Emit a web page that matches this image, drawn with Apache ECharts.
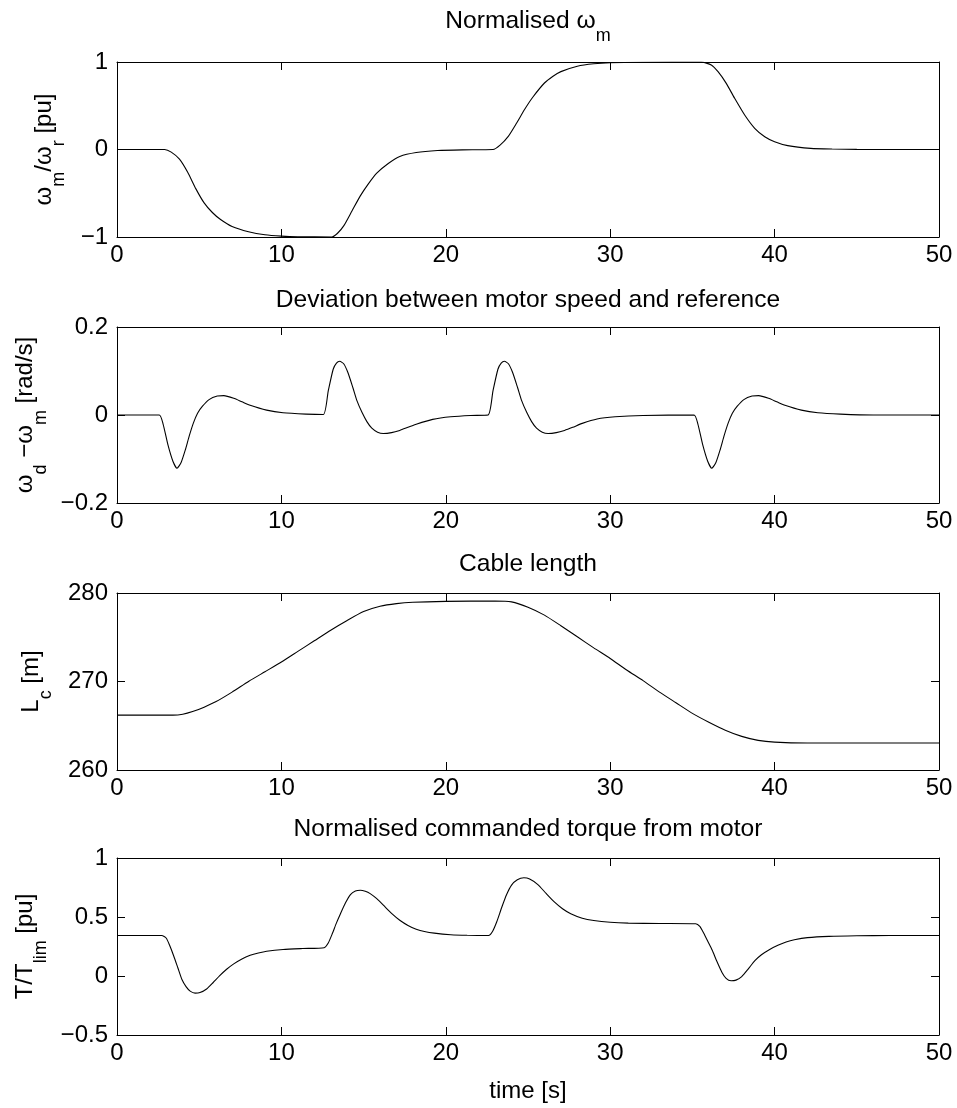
<!DOCTYPE html>
<html><head><meta charset="utf-8">
<script src="https://cdn.jsdelivr.net/npm/echarts@6/dist/echarts.min.js"></script>
<style>html,body{margin:0;padding:0;background:#fff}#c{width:957px;height:1108px}</style>
</head><body><div id="c"></div>
<script>
// ---- data ----
const xTicks = [0, 10, 20, 30, 40, 50];

const speedT = [0, 2.9, 3.3, 3.8, 4.3, 4.8, 5.3, 5.8, 6.3, 7.0, 8.0, 9.0, 10.0, 11.0, 13.05, 13.4, 13.8, 14.3, 14.8, 15.3, 15.8, 16.5, 17.2, 18.2, 19.5, 21.0, 22.87, 23.3, 23.8, 24.3, 24.8, 25.3, 26.0, 26.5, 27.0, 28.0, 29.0, 30.0, 32.0, 35.54, 36.15, 36.56, 37.06, 37.57, 38.18, 38.79, 39.4, 40.0, 40.8, 42.2, 43.5, 45.0, 50];
const speedV = [0, 0, -0.03, -0.11, -0.26, -0.45, -0.61, -0.72, -0.80, -0.88, -0.94, -0.975, -0.99, -0.997, -1.0, -0.96, -0.87, -0.70, -0.53, -0.39, -0.27, -0.16, -0.08, -0.035, -0.012, -0.004, 0, 0.05, 0.15, 0.30, 0.46, 0.60, 0.76, 0.835, 0.89, 0.952, 0.98, 0.992, 0.998, 1.0, 0.966, 0.889, 0.756, 0.585, 0.394, 0.242, 0.146, 0.089, 0.044, 0.013, 0.005, 0.001, 0];

const devT = [0, 2.57, 2.8, 3.1, 3.4, 3.65, 3.9, 4.15, 4.4, 4.65, 4.9, 5.2, 5.6, 6.1, 6.5, 7.1, 7.6, 8.1, 9.1, 10.1, 11.5, 12.55, 12.85, 13.15, 13.35, 13.55, 13.8, 14.05, 14.35, 14.6, 14.9, 15.2, 15.5, 15.85, 16.2, 16.7, 17.2, 17.7, 18.2, 19.2, 20.3, 21.5, 22.57, 22.87, 23.17, 23.37, 23.57, 23.82, 24.07, 24.37, 24.62, 24.92, 25.22, 25.52, 25.87, 26.22, 26.72, 27.22, 27.72, 28.3, 29.2, 30.3, 32.0, 35.1, 35.33, 35.63, 35.93, 36.18, 36.43, 36.68, 36.93, 37.18, 37.43, 37.73, 38.13, 38.63, 39.03, 39.63, 40.13, 40.63, 41.63, 42.63, 44.0, 46.0, 50];
const devV = [0, 0, -0.02, -0.068, -0.105, -0.121, -0.108, -0.08, -0.047, -0.018, 0.004, 0.02, 0.035, 0.043, 0.044, 0.038, 0.03, 0.022, 0.011, 0.005, 0.002, 0.001, 0.055, 0.104, 0.118, 0.122, 0.116, 0.096, 0.062, 0.032, 0.006, -0.015, -0.03, -0.039, -0.042, -0.04, -0.035, -0.028, -0.021, -0.01, -0.004, -0.001, 0, 0.055, 0.104, 0.118, 0.122, 0.116, 0.096, 0.062, 0.032, 0.006, -0.015, -0.03, -0.039, -0.042, -0.04, -0.035, -0.028, -0.019, -0.009, -0.004, -0.001, 0, -0.02, -0.068, -0.105, -0.121, -0.108, -0.08, -0.047, -0.018, 0.004, 0.02, 0.035, 0.043, 0.044, 0.038, 0.03, 0.022, 0.011, 0.005, 0.002, 0, 0];

const cableT = [0, 3.4, 4.0, 4.6, 5.3, 6.0, 7.0, 8.0, 9.0, 10.0, 11.0, 12.0, 13.0, 14.0, 15.0, 16.0, 17.0, 18.0, 20.0, 23.0, 24.0, 25.0, 26.0, 27.0, 28.0, 29.0, 30.0, 31.0, 32.0, 33.0, 34.0, 35.0, 36.0, 37.0, 38.0, 39.0, 40.0, 42.0, 50];
const cableV = [266.2, 266.2, 266.3, 266.6, 267.1, 267.7, 268.8, 270.0, 271.1, 272.2, 273.4, 274.6, 275.8, 276.9, 277.9, 278.5, 278.8, 278.95, 279.05, 279.1, 279.0, 278.4, 277.5, 276.3, 275.05, 273.8, 272.6, 271.3, 270.1, 268.8, 267.6, 266.4, 265.4, 264.5, 263.8, 263.35, 263.15, 263.05, 263.05];

const torqueT = [0, 2.72, 3.0, 3.2, 3.45, 3.7, 3.95, 4.2, 4.45, 4.75, 5.05, 5.45, 5.85, 6.25, 6.65, 7.1, 7.6, 8.1, 8.6, 9.1, 10.1, 11.3, 12.6, 12.85, 13.1, 13.35, 13.6, 13.9, 14.2, 14.5, 14.8, 15.1, 15.4, 15.8, 16.2, 16.7, 17.2, 17.7, 18.2, 18.7, 19.3, 20.3, 21.3, 22.6, 22.85, 23.1, 23.4, 23.7, 24.0, 24.35, 24.75, 25.1, 25.6, 26.1, 26.6, 27.1, 27.6, 28.3, 29.0, 30.0, 31.1, 33.0, 35.2, 35.45, 35.7, 35.95, 36.2, 36.5, 36.8, 37.05, 37.35, 37.65, 38.0, 38.4, 38.8, 39.2, 39.7, 40.2, 40.7, 41.2, 42.0, 43.3, 45.0, 47.0, 50];
const torqueV = [0.343, 0.343, 0.32, 0.26, 0.17, 0.07, -0.03, -0.09, -0.128, -0.145, -0.14, -0.11, -0.055, 0.003, 0.055, 0.103, 0.145, 0.175, 0.195, 0.21, 0.225, 0.233, 0.24, 0.28, 0.36, 0.45, 0.53, 0.62, 0.69, 0.72, 0.727, 0.718, 0.698, 0.655, 0.6, 0.53, 0.472, 0.428, 0.397, 0.377, 0.363, 0.35, 0.345, 0.343, 0.38, 0.46, 0.58, 0.69, 0.77, 0.815, 0.832, 0.822, 0.775, 0.7, 0.628, 0.57, 0.528, 0.49, 0.47, 0.455, 0.448, 0.445, 0.443, 0.42, 0.36, 0.29, 0.22, 0.12, 0.03, -0.02, -0.04, -0.035, -0.005, 0.06, 0.13, 0.18, 0.225, 0.26, 0.288, 0.307, 0.325, 0.336, 0.341, 0.343, 0.343];

const yTicks1 = [-1, 0, 1];
const yTicks2 = [-0.2, 0, 0.2];
const yTicks3 = [260, 270, 280];
const yTicks4 = [-0.5, 0, 0.5, 1];

const titles = ['{t|Normalised ω}{s|m}', '{t|Deviation between motor speed and reference}', '{t|Cable length}', '{t|Normalised commanded torque from motor}'];
const yNames = ['{a|ω}{s|m}{a|/ω}{s|r}{a| [pu]}', '{a|ω}{s|d}{a| −ω}{s|m}{a| [rad/s]}', '{a|L}{s|c}{a| [m]}', '{a|T/T}{s|lim}{a| [pu]}'];
const xName = 'time [s]';

// ---- layout ----
const FONT = '"Liberation Sans", Arial, Helvetica, sans-serif';
const PLOT_LEFT = 117, PLOT_RIGHT = 18;
const gridTops = [62, 327, 593, 858];
const gridHeights = [175, 176, 177, 177];
const titleTops = [9.5, 288, 552, 817];
const nameGaps = [61, 69, 74, 70];
const series = [[speedT, speedV], [devT, devV], [cableT, cableV], [torqueT, torqueV]];
const yTicks = [yTicks1, yTicks2, yTicks3, yTicks4];

const rich = {
  a: {fontSize: 24, fontFamily: FONT, fontWeight: 'normal', color: '#000', lineHeight: 24},
  t: {fontSize: 24.6, fontFamily: FONT, fontWeight: 'normal', color: '#000', lineHeight: 24},
  s: {fontSize: 18, fontFamily: FONT, fontWeight: 'normal', color: '#000', lineHeight: 18, padding: [30, 0, 0, 0]}
};
const fmt = v => String(+v.toFixed(6)).replace('-', '\u2212');
const tick = {show: true, inside: true, length: 8, lineStyle: {color: '#000', width: 1}};
const line = {show: true, onZero: false, lineStyle: {color: '#000', width: 1}};
const label = {color: '#000', fontSize: 24, fontFamily: FONT, formatter: fmt};

const option = {animation: false, backgroundColor: '#fff', grid: [], xAxis: [], yAxis: [], title: [], series: []};
for (let i = 0; i < 4; i++) {
  option.grid.push({left: PLOT_LEFT, right: PLOT_RIGHT, top: gridTops[i], height: gridHeights[i],
    containLabel: false, outerBoundsMode: 'none'});
  const xr = {min: xTicks[0], max: xTicks[xTicks.length - 1], interval: xTicks[1] - xTicks[0]};
  const yt = yTicks[i];
  const yr = {min: yt[0], max: yt[yt.length - 1], interval: yt[1] - yt[0]};
  const xb = Object.assign({type: 'value', gridIndex: i, position: 'bottom', axisLine: line, axisTick: tick,
    axisLabel: Object.assign({margin: 6}, label), splitLine: {show: false}}, xr);
  if (i === 3) {
    Object.assign(xb, {name: xName, nameLocation: 'middle', nameGap: 44,
      nameTextStyle: {color: '#000', fontSize: 24, fontFamily: FONT}});
  }
  option.xAxis.push(xb);
  option.xAxis.push(Object.assign({type: 'value', gridIndex: i, position: 'top', axisLine: line, axisTick: tick,
    axisLabel: {show: false}, splitLine: {show: false}}, xr));
  option.yAxis.push(Object.assign({type: 'value', gridIndex: i, position: 'left', axisLine: line, axisTick: tick,
    axisLabel: Object.assign({margin: 9}, label), splitLine: {show: false},
    name: yNames[i], nameLocation: 'middle', nameRotate: 90, nameGap: nameGaps[i],
    nameTextStyle: {rich: rich}}, yr));
  option.yAxis.push(Object.assign({type: 'value', gridIndex: i, position: 'right', axisLine: line, axisTick: tick,
    axisLabel: {show: false}, splitLine: {show: false}}, yr));
  option.title.push({text: titles[i], left: 528, top: titleTops[i], textAlign: 'center', padding: 0,
    textStyle: {fontWeight: 'normal', fontSize: 24, fontFamily: FONT, color: '#000', rich: rich}});
  const [T, V] = series[i];
  option.series.push({type: 'line', xAxisIndex: 2 * i, yAxisIndex: 2 * i, showSymbol: false, smooth: 0.2,
    lineStyle: {color: '#000', width: 1.1}, silent: true,
    data: T.map((t, k) => [t, V[k]])});
}
const chart = echarts.init(document.getElementById('c'), null, {renderer: 'canvas'});
chart.setOption(option);
</script>
</body></html>
